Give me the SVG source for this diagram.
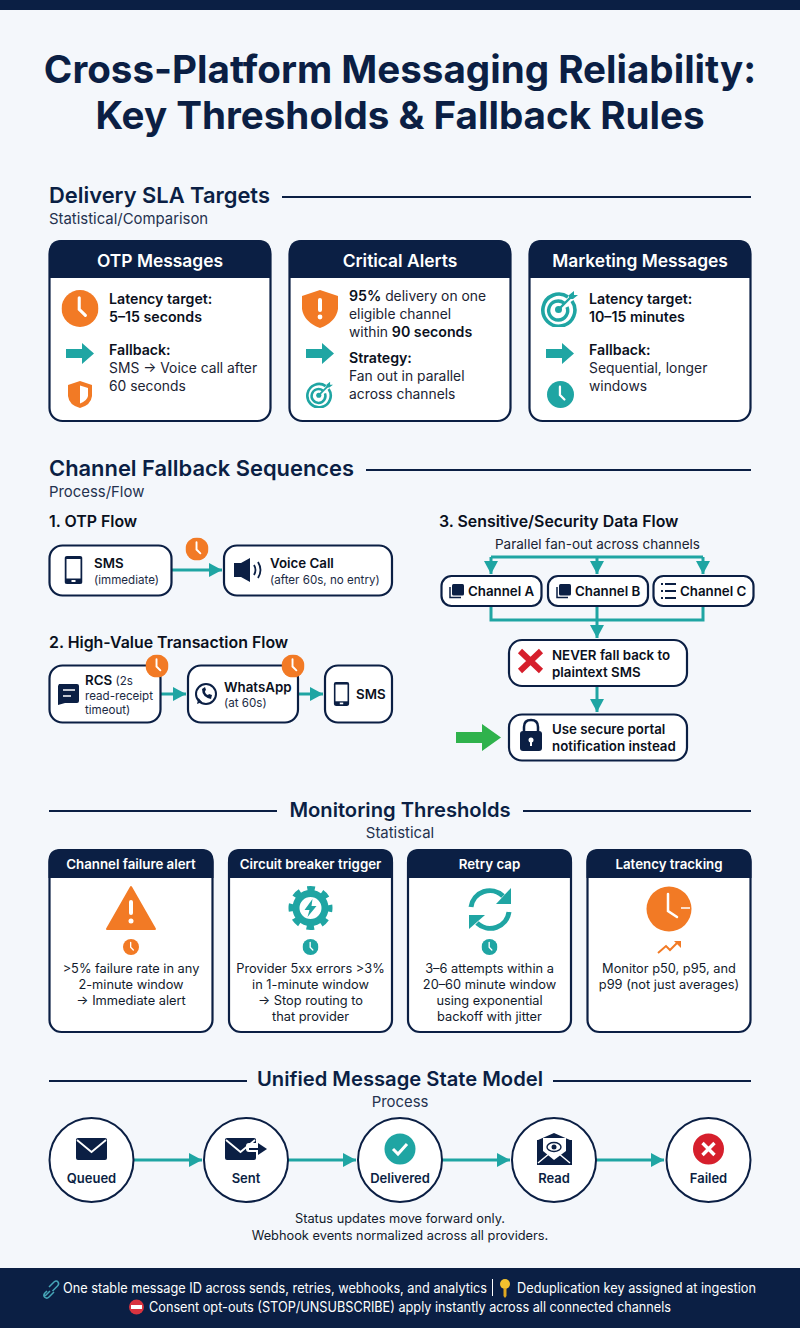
<svg xmlns="http://www.w3.org/2000/svg" width="800" height="1328" viewBox="0 0 800 1328">
<style>
text{font-family:Inter,"Liberation Sans",sans-serif;fill:#0b1f44}
.title{font-size:38.6px;font-weight:700;text-anchor:middle}
.h2{font-size:21.9px;font-weight:600}
.h2c{font-size:20.2px;font-weight:600;text-anchor:middle}
.sub{font-size:14.9px;fill:#24324f}
.rule{stroke:#0b1f44;stroke-width:2;fill:none}
.card{fill:#fff;stroke:#0b1f44;stroke-width:2.2}
.hd{fill:#0b1f44}
.ht{font-size:17.4px;font-weight:600;fill:#fff;text-anchor:middle}
.ht2{font-size:13.3px;font-weight:600;fill:#fff;text-anchor:middle}
.b{font-size:14.2px;font-weight:600;fill:#0a1020}
.t{font-size:13.85px;fill:#1b2333}
.c{font-size:12.8px;fill:#111a2c;text-anchor:middle}
.h3{font-size:15.9px;font-weight:600;fill:#0a1020}
.n{font-size:13.3px;font-weight:600;fill:#0a1020}
.s{font-size:11.6px;font-weight:400;fill:#1b2a44}
.conn{stroke:#1fa5a3;stroke-width:3;fill:none}
.st{font-size:13px;font-weight:600;fill:#0b1f44;text-anchor:middle}
.ft{font-size:14px;fill:#fff}
</style>
<defs>
<marker id="ah" markerUnits="userSpaceOnUse" markerWidth="14" markerHeight="16" refX="13" refY="7" orient="auto"><path d="M0 0L13 7L0 14Z" fill="#1fa5a3"/></marker>
<symbol id="clock" viewBox="0 0 24 24"><circle cx="12" cy="12" r="12"/><path d="M11.5 5V12.5L15.5 16.5" fill="none" stroke="#fff" stroke-width="2" stroke-linecap="round"/></symbol>
<symbol id="phone" viewBox="0 0 18 28"><rect x="0" y="0" width="18" height="28" rx="2.5" fill="#0b1f44"/><rect x="2" y="3" width="14" height="19.5" fill="#fff"/><rect x="7" y="24" width="4" height="2" fill="#fff"/></symbol>
<symbol id="target" viewBox="0 0 37 37"><g fill="none" stroke="#1fa5a3"><path d="M27 7A16 16 0 1 0 31 11" stroke-width="3.6"/><path d="M23 13A9.500 9.500 0 1 0 26 17" stroke-width="3.400"/></g><circle cx="17.500" cy="19.500" r="3.500" fill="#1fa5a3"/><path d="M17.500 19.500L30 7" stroke="#1fa5a3" stroke-width="2.400"/><path d="M28 5L33 1L33 5L37 5L32 9L28 9Z" fill="#1fa5a3"/></symbol>
<symbol id="copy" viewBox="0 0 16 16"><rect x="4" y="1" width="12" height="11.500" rx="1.500" fill="#0b1f44"/><path d="M2 4V14.500H13" fill="none" stroke="#0b1f44" stroke-width="1.500"/></symbol>
<path id="blk" d="M0 -4.500H16V-10.500L28 0L16 10.500V4.500H0Z" fill="#1fa5a3"/>
<path id="env" d="M2 0H29Q31 0 31 2V20Q31 22 29 22H2Q0 22 0 20V2Q0 0 2 0Z" fill="#0b1f44"/>
</defs>

<rect width="800" height="1328" fill="#f4f7fb"/>
<rect width="800" height="10" fill="#0b1f44"/>
<g id="heading">
<text class="title" x="400" y="83">Cross-Platform Messaging Reliability:</text>
<text class="title" x="400" y="129">Key Thresholds &amp; Fallback Rules</text>
</g>

<g id="section-sla">
<text class="h2" x="49" y="203">Delivery SLA Targets</text>
<path class="rule" d="M282 197H751"/>
<text class="sub" x="49" y="224">Statistical/Comparison</text>
</g>

<g id="card-otp">
<rect class="card" x="49.500" y="241" width="221" height="180" rx="13"/>
<path class="hd" d="M62 240H258Q271 240 271 253V278H49V253Q49 240 62 240Z"/>
<text class="ht" x="160" y="267">OTP Messages</text>
<use href="#clock" x="61.500" y="290" width="37" height="37" fill="#f27a25"/>
<text class="b" x="109" y="304">Latency target:</text>
<text class="b" x="109" y="322">5–15 seconds</text>
<use href="#blk" transform="translate(66 353.500)"/>
<text class="b" x="109" y="355">Fallback:</text>
<text class="t" x="109" y="373">SMS → Voice call after</text>
<text class="t" x="109" y="391">60 seconds</text>
<path d="M80 381L92 385V396Q91 405 80 408Q69 405 68 396V385Z" fill="#f27a25"/><path d="M80 385.500L88 388V396Q87 401 80 403.500Z" fill="#fff"/>
</g>

<g id="card-critical">
<rect class="card" x="289.500" y="241" width="221" height="180" rx="13"/>
<path class="hd" d="M302 240H498Q511 240 511 253V278H289V253Q289 240 302 240Z"/>
<text class="ht" x="400" y="267">Critical Alerts</text>
<path d="M320 290L338 296V309Q336 322 320 328Q304 322 302 309V296Z" fill="#f27a25"/>
<rect x="318" y="298" width="4" height="14" rx="2" fill="#fff"/><circle cx="320" cy="317" r="2.400" fill="#fff"/>
<text x="349" y="301" class="t"><tspan class="b">95%</tspan> delivery on one</text>
<text class="t" x="349" y="319">eligible channel</text>
<text x="349" y="337" class="t">within <tspan class="b">90 seconds</tspan></text>
<use href="#blk" transform="translate(306 353.500)"/>
<text class="b" x="349" y="363">Strategy:</text>
<text class="t" x="349" y="381">Fan out in parallel</text>
<text class="t" x="349" y="399">across channels</text>
<use href="#target" x="306" y="381" width="27" height="27"/>
</g>

<g id="card-marketing">
<rect class="card" x="529.500" y="241" width="221" height="180" rx="13"/>
<path class="hd" d="M542 240H738Q751 240 751 253V278H529V253Q529 240 542 240Z"/>
<text class="ht" x="640" y="267">Marketing Messages</text>
<use href="#target" x="541" y="290" width="37" height="37"/>
<text class="b" x="589" y="304">Latency target:</text>
<text class="b" x="589" y="322">10–15 minutes</text>
<use href="#blk" transform="translate(546 353.500)"/>
<text class="b" x="589" y="355">Fallback:</text>
<text class="t" x="589" y="373">Sequential, longer</text>
<text class="t" x="589" y="391">windows</text>
<use href="#clock" x="547" y="381" width="27" height="27" fill="#1fa5a3"/>
</g>

<g id="section-fallback">
<text class="h2" x="49" y="476">Channel Fallback Sequences</text>
<path class="rule" d="M366 470H751"/>
<text class="sub" x="49" y="497">Process/Flow</text>
<text class="h3" x="49" y="527">1. OTP Flow</text>
<text class="h3" x="49" y="648">2. High-Value Transaction Flow</text>
<text class="h3" x="439" y="527">3. Sensitive/Security Data Flow</text>
<text class="t" x="597.500" y="549" text-anchor="middle" style="font-size:13.5px">Parallel fan-out across channels</text>
</g>

<g id="connectors">
<path class="conn" d="M172 570H222" marker-end="url(#ah)"/>
<path class="conn" d="M161 694H186" marker-end="url(#ah)"/>
<path class="conn" d="M298 694H323" marker-end="url(#ah)"/>
<path class="conn" d="M491 557H703"/>
<path class="conn" d="M491 557V574" marker-end="url(#ah)"/>
<path class="conn" d="M597 557V574" marker-end="url(#ah)"/>
<path class="conn" d="M703 557V574" marker-end="url(#ah)"/>
<path class="conn" d="M491 606V620H703V606"/>
<path class="conn" d="M597 606V638" marker-end="url(#ah)"/>
<path class="conn" d="M597 686V712" marker-end="url(#ah)"/>
<path class="conn" d="M133 1160H202" marker-end="url(#ah)"/>
<path class="conn" d="M288 1160H356" marker-end="url(#ah)"/>
<path class="conn" d="M442 1160H510" marker-end="url(#ah)"/>
<path class="conn" d="M596 1160H664" marker-end="url(#ah)"/>
</g>

<g id="node-sms">
<rect class="card" x="49.500" y="545.500" width="122" height="50" rx="13"/>
<use href="#phone" x="64.500" y="556" width="18" height="28"/>
<text class="n" x="94" y="568">SMS</text>
<text class="s" x="94" y="584">(immediate)</text>
</g>
<use href="#clock" x="185.500" y="537.500" width="23" height="23" fill="#f27a25"/>
<g id="node-voice">
<rect class="card" x="224" y="545.500" width="168" height="50" rx="13"/>
<path d="M234 563H241L250 558V582L241 577H234Z" fill="#0b1f44"/>
<path d="M254 565Q257 570 254 575M258 562Q263 570 258 578" fill="none" stroke="#0b1f44" stroke-width="1.800"/>
<text class="n" x="270" y="568">Voice Call</text>
<text class="s" x="270" y="584">(after 60s, no entry)</text>
</g>
<g id="node-rcs">
<rect class="card" x="49.500" y="665.500" width="111" height="57" rx="13"/>
<path d="M59 684Q59 684 61 684H77Q79 684 79 686V701Q79 703 77 703H65L58 705V686Z" fill="#0b1f44"/>
<path d="M63 690H75M63 696H71" stroke="#fff" stroke-width="1.600"/>
<text x="85" y="685" class="n">RCS <tspan class="s">(2s</tspan></text>
<text class="s" x="85" y="700">read-receipt</text>
<text class="s" x="85" y="714">timeout)</text>
</g>
<use href="#clock" x="145.500" y="654.500" width="23" height="23" fill="#f27a25"/>
<g id="node-whatsapp">
<rect class="card" x="188" y="665.500" width="110" height="57" rx="13"/>
<circle cx="206" cy="694" r="10" fill="none" stroke="#0b1f44" stroke-width="2"/>
<path d="M197 704L198.500 698L202 702Z" fill="#0b1f44"/>
<path d="M202 689Q202 697 211 699L212 695L209 694L208 695Q205 694 205 691L206 690L205 687Z" fill="#0b1f44"/>
<text class="n" x="224" y="692">WhatsApp</text>
<text class="s" x="224" y="707">(at 60s)</text>
</g>
<use href="#clock" x="281.500" y="654.500" width="23" height="23" fill="#f27a25"/>
<g id="node-sms2">
<rect class="card" x="325" y="665.500" width="67" height="57" rx="13"/>
<use href="#phone" x="333.500" y="682" width="16" height="24"/>
<text class="n" x="356" y="699">SMS</text>
</g>
<g id="node-channel-a">
<rect class="card" x="441.500" y="576" width="100" height="30" rx="10"/>
<use href="#copy" x="448" y="583" width="16" height="16"/>
<text class="n" x="468" y="596">Channel A</text>
</g>
<g id="node-channel-b">
<rect class="card" x="548" y="576" width="100" height="30" rx="10"/>
<use href="#copy" x="555" y="583" width="16" height="16"/>
<text class="n" x="575" y="596">Channel B</text>
</g>
<g id="node-channel-c">
<rect class="card" x="653.500" y="576" width="100" height="30" rx="10"/>
<path d="M661 584H676M661 591H676M661 598H676" stroke="#0b1f44" stroke-width="1.800" stroke-dasharray="2 2 11 0"/>
<text class="n" x="680" y="596">Channel C</text>
</g>
<g id="node-never">
<rect class="card" x="509" y="640" width="178" height="46" rx="13"/>
<path d="M520 651L541 671M541 651L520 671" stroke="#d61f2c" stroke-width="6"/>
<text class="n" x="552" y="660">NEVER fall back to</text>
<text class="n" x="552" y="677">plaintext SMS</text>
</g>
<path d="M456 732H482V724L501 737.500L482 751V743H456Z" fill="#2fb24c"/>
<g id="node-portal">
<rect class="card" x="509" y="714.500" width="178" height="46" rx="13"/>
<path d="M524 733V727Q524 720 531 720Q538 720 538 727V733" fill="none" stroke="#0b1f44" stroke-width="2.500"/>
<rect x="520" y="731" width="22" height="20" rx="3" fill="#0b1f44"/><circle cx="531" cy="740" r="2.500" fill="#fff"/><rect x="530" y="741" width="2" height="5" fill="#fff"/>
<text class="n" x="552" y="734">Use secure portal</text>
<text class="n" x="552" y="751">notification instead</text>
</g>

<g id="section-monitoring">
<text class="h2c" x="400" y="817">Monitoring Thresholds</text>
<path class="rule" d="M49 811H277M523 811H751"/>
<text class="sub" x="400" y="838" text-anchor="middle">Statistical</text>
</g>

<g id="card-failure">
<rect class="card" x="49.500" y="850" width="163" height="182" rx="12"/>
<path class="hd" d="M60.500 849H201.500Q213.500 849 213.500 861V878H48.500V861Q48.500 849 60.500 849Z"/>
<text class="ht2" x="131" y="869">Channel failure alert</text>
<path d="M131 887L155 929H107Z" fill="#f27a25" stroke="#f27a25" stroke-width="2" stroke-linejoin="round"/>
<rect x="129" y="900" width="4" height="15" rx="2" fill="#fff"/><circle cx="131" cy="921" r="2.500" fill="#fff"/>
<use href="#clock" x="123" y="939" width="16" height="16" fill="#f27a25"/>
<text class="c" x="131" y="973">&gt;5% failure rate in any</text>
<text class="c" x="131" y="989">2-minute window</text>
<text class="c" x="131" y="1005">→ Immediate alert</text>
</g>
<g id="card-breaker">
<rect class="card" x="229" y="850" width="163" height="182" rx="12"/>
<path class="hd" d="M240 849H381Q393 849 393 861V878H228V861Q228 849 240 849Z"/>
<text class="ht2" x="310.500" y="869">Circuit breaker trigger</text>
<circle cx="310.500" cy="908" r="14.500" fill="none" stroke="#1fa5a3" stroke-width="7"/>
<circle cx="310.500" cy="908" r="19.500" fill="none" stroke="#1fa5a3" stroke-width="5" stroke-dasharray="7.700 7.610" stroke-dashoffset="3.850"/>
<path d="M312.500 899L304.500 910H309.500L307.500 917L316.500 906H311.500Z" fill="#1fa5a3"/>
<use href="#clock" x="302.500" y="939" width="16" height="16" fill="#1fa5a3"/>
<text class="c" x="310.500" y="973">Provider 5xx errors &gt;3%</text>
<text class="c" x="310.500" y="989">in 1-minute window</text>
<text class="c" x="310.500" y="1005">→ Stop routing to</text>
<text class="c" x="310.500" y="1021">that provider</text>
</g>
<g id="card-retry">
<rect class="card" x="408" y="850" width="163" height="182" rx="12"/>
<path class="hd" d="M419 849H560Q572 849 572 861V878H407V861Q407 849 419 849Z"/>
<text class="ht2" x="489.500" y="869">Retry cap</text>
<path d="M471 907A19 19 0 0 1 503 896" fill="none" stroke="#1fa5a3" stroke-width="5"/>
<path d="M511 888V904H496Z" fill="#1fa5a3"/>
<path d="M509 912A19 19 0 0 1 477 923" fill="none" stroke="#1fa5a3" stroke-width="5"/>
<path d="M469 929V915H485Z" fill="#1fa5a3"/>
<use href="#clock" x="481.500" y="939" width="16" height="16" fill="#1fa5a3"/>
<text class="c" x="489.500" y="973">3–6 attempts within a</text>
<text class="c" x="489.500" y="989">20–60 minute window</text>
<text class="c" x="489.500" y="1005">using exponential</text>
<text class="c" x="489.500" y="1021">backoff with jitter</text>
</g>
<g id="card-latency">
<rect class="card" x="587.500" y="850" width="163" height="182" rx="12"/>
<path class="hd" d="M598.500 849H739.500Q751.500 849 751.500 861V878H586.500V861Q586.500 849 598.500 849Z"/>
<text class="ht2" x="669" y="869">Latency tracking</text>
<circle cx="669" cy="909" r="22.500" fill="#f27a25"/>
<path d="M668 894V911L677 917" fill="none" stroke="#fff" stroke-width="2.500" stroke-linecap="round"/><path d="M681 908H690" stroke="#fff" stroke-width="1.500"/>
<path d="M658 953L666 946L670 950L678 942" fill="none" stroke="#f27a25" stroke-width="2"/><path d="M674 941H681V948Z" fill="#f27a25"/>
<text class="c" x="669" y="973">Monitor p50, p95, and</text>
<text class="c" x="669" y="989">p99 (not just averages)</text>
</g>

<g id="section-state">
<text class="h2c" x="400" y="1086">Unified Message State Model</text>
<path class="rule" d="M49 1081H247M553 1081H751"/>
<text class="sub" x="400" y="1107" text-anchor="middle">Process</text>
<text class="c" x="400" y="1223">Status updates move forward only.</text>
<text class="c" x="400" y="1240">Webhook events normalized across all providers.</text>
</g>

<g id="state-queued">
<circle cx="91.500" cy="1160" r="42" fill="#fff" stroke="#0b1f44" stroke-width="2"/>
<use href="#env" x="76" y="1138"/>
<path d="M77 1140L91.500 1152L106 1140" fill="none" stroke="#fff" stroke-width="1.800"/>
<text class="st" x="91.500" y="1183">Queued</text>
</g>
<g id="state-sent">
<circle cx="246" cy="1160" r="42" fill="#fff" stroke="#0b1f44" stroke-width="2"/>
<use href="#env" x="225" y="1138"/>
<path d="M226 1140L240.500 1152L255 1140" fill="none" stroke="#fff" stroke-width="1.800"/>
<rect x="246" y="1143" width="14" height="9" rx="3" fill="#fff"/>
<path d="M249 1149H260" stroke="#0b1f44" stroke-width="2"/><path d="M258 1143L267 1149L258 1155Z" fill="#0b1f44"/>
<text class="st" x="246" y="1183">Sent</text>
</g>
<g id="state-delivered">
<circle cx="400" cy="1160" r="42" fill="#fff" stroke="#0b1f44" stroke-width="2"/>
<circle cx="400" cy="1149" r="15.500" fill="#1fa5a3"/>
<path d="M393 1149L398 1154L407 1144" fill="none" stroke="#fff" stroke-width="3"/>
<text class="st" x="400" y="1183">Delivered</text>
</g>
<g id="state-read">
<circle cx="554" cy="1160" r="42" fill="#fff" stroke="#0b1f44" stroke-width="2"/>
<path d="M538 1140L554 1133L570 1140L572 1140V1165H537V1140Z" fill="#0b1f44"/>
<path d="M543 1138H566V1151L554 1160L543 1151Z" fill="#fff"/>
<path d="M538 1163L550 1153M570 1163L558 1153" stroke="#fff" stroke-width="1.500"/>
<ellipse cx="554" cy="1147" rx="7" ry="4.500" fill="none" stroke="#0b1f44" stroke-width="1.400"/><circle cx="554" cy="1147" r="2.500" fill="#0b1f44"/>
<text class="st" x="554" y="1183">Read</text>
</g>
<g id="state-failed">
<circle cx="708.500" cy="1160" r="42" fill="#fff" stroke="#0b1f44" stroke-width="2"/>
<circle cx="708.500" cy="1149" r="15.500" fill="#d61f2c"/>
<path d="M702.500 1143L714.500 1155M714.500 1143L702.500 1155" stroke="#fff" stroke-width="3.400"/>
<text class="st" x="708.500" y="1183">Failed</text>
</g>

<g id="footer">
<rect y="1268" width="800" height="60" fill="#0b1f44"/>
<path d="M45 1296L50 1291M49 1287L54 1282Q56.500 1280 58 1282Q59.500 1284 57.500 1286L52.500 1291M47 1291L44.500 1293.500Q43 1296 45 1297.500Q47 1299 49 1297L54 1292" fill="none" stroke="#46a6b8" stroke-width="1.500"/>
<text class="ft" x="63" y="1293" textLength="424" lengthAdjust="spacingAndGlyphs">One stable message ID across sends, retries, webhooks, and analytics</text>
<path d="M492.500 1279V1296" stroke="#fff" stroke-width="1"/>
<ellipse cx="505" cy="1284" rx="5" ry="5" fill="#f2c12e"/><path d="M503.500 1288H506.500V1296L505 1298L503.500 1296Z" fill="#e0a820"/>
<text class="ft" x="517" y="1293" textLength="239" lengthAdjust="spacingAndGlyphs">Deduplication key assigned at ingestion</text>
<circle cx="136.500" cy="1307" r="7.500" fill="#d9333f"/><rect x="131" y="1305" width="11" height="4" fill="#fff"/>
<text class="ft" x="149" y="1312" textLength="522" lengthAdjust="spacingAndGlyphs">Consent opt-outs (STOP/UNSUBSCRIBE) apply instantly across all connected channels</text>
</g>
</svg>
